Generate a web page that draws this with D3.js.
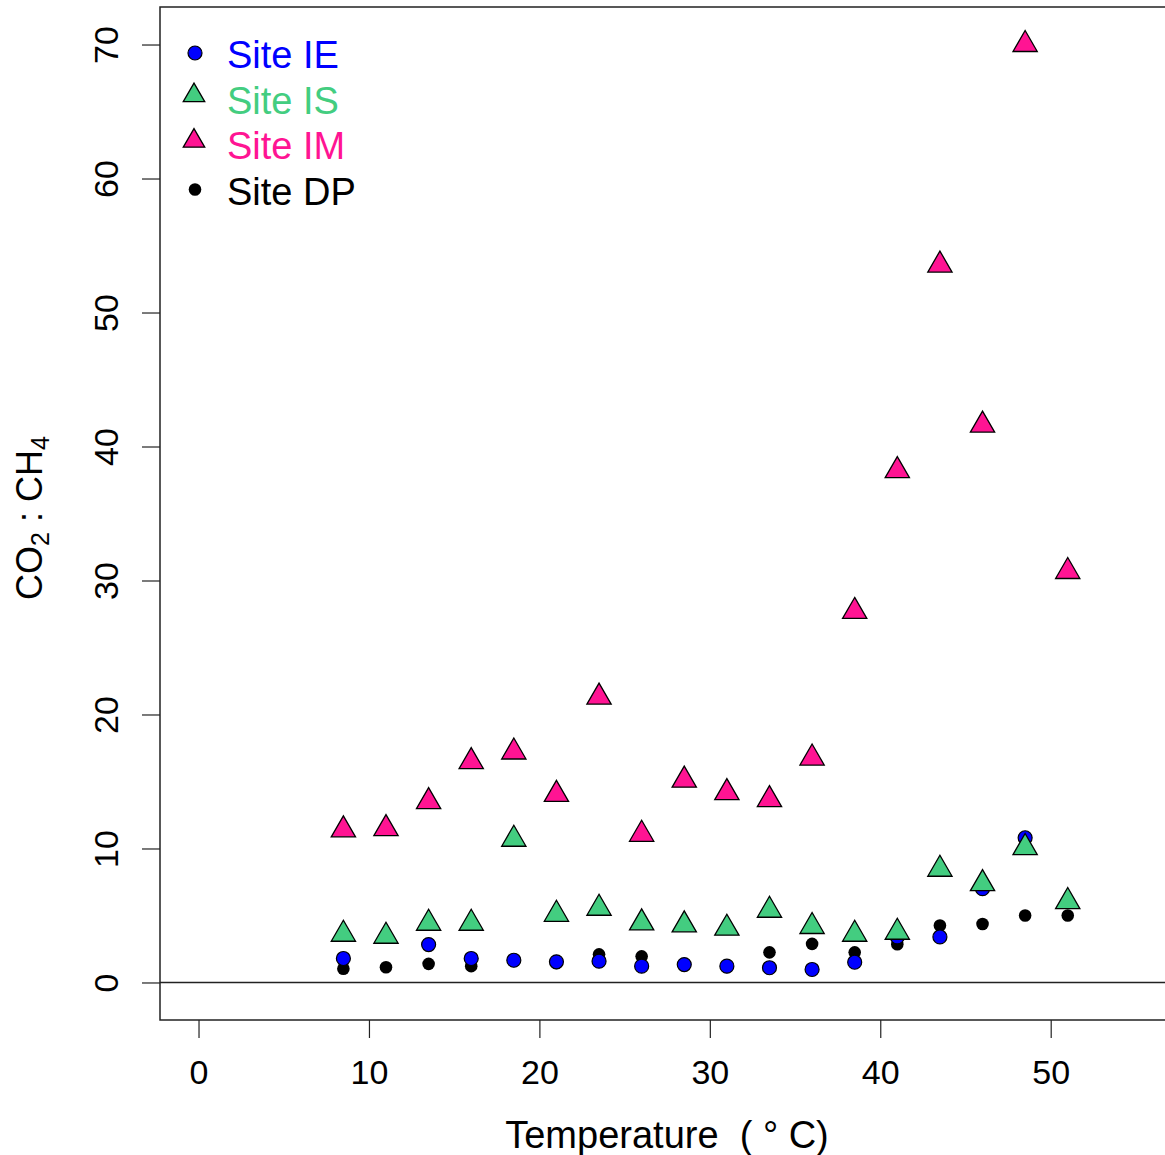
<!DOCTYPE html>
<html>
<head>
<meta charset="utf-8">
<script src="https://cdn.jsdelivr.net/npm/d3@7"></script>
<style>
  body { margin: 0; background: #fff; }
  text { font-family: "Liberation Sans", Arial, sans-serif; }
</style>
</head>
<body>
<div id="chart"></div>
<script>
// Données
const temperature = [8.5, 11, 13.5, 16, 18.5, 21, 23.5, 26, 28.5, 31, 33.5, 36, 38.5, 41, 43.5, 46, 48.5, 51];
const siteIE = [1.79, null, 2.83, 1.79, 1.66, 1.54, 1.59, 1.22, 1.34, 1.22, 1.1, 0.97, 1.51, 3.4, 3.4, 7.0, 10.8, null];
const siteIS = [3.6, 3.45, 4.42, 4.42, 10.69, 5.09, 5.54, 4.45, 4.3, 4.05, 5.39, 4.18, 3.6, 3.75, 8.45, 7.38, 10.07, 6.04];
const siteIM = [11.39, 11.48, 13.5, 16.48, 17.2, 14.04, 21.3, 11.06, 15.1, 14.17, 13.65, 16.75, 27.69, 38.2, 53.54, 41.6, 70.0, 30.67];
const siteDP = [1.02, 1.14, 1.39, 1.22, 1.6, 1.45, 2.1, 1.95, 1.3, 1.15, 2.25, 2.88, 2.25, 2.85, 4.25, 4.37, 5.0, 5.0];
const xTicks = [0, 10, 20, 30, 40, 50];
const yTicks = [0, 10, 20, 30, 40, 50, 60, 70];
const legendLabels = ["Site IE", "Site IS", "Site IM", "Site DP"];

const width = 1165;
const height = 1155;

const svg = d3.select("#chart").append("svg")
  .attr("width", width)
  .attr("height", height);

// Échelles (zone de tracé coupée à droite comme dans l'original)
const x = d3.scaleLinear().domain([-2.26, 58.76]).range([160, 1200]);
const y = d3.scaleLinear().domain([-2.8, 72.8]).range([1020, 7]);

// Cadre
svg.append("rect")
  .attr("x", x(-2.26)).attr("y", y(72.8))
  .attr("width", x(58.76) - x(-2.26)).attr("height", y(-2.8) - y(72.8))
  .attr("fill", "none").attr("stroke", "#222").attr("stroke-width", 1.5);

// Ligne horizontale à zéro
svg.append("line")
  .attr("x1", x(-2.26)).attr("x2", x(58.76))
  .attr("y1", y(0)).attr("y2", y(0))
  .attr("stroke", "#222").attr("stroke-width", 1.3);

// Axe X
const xAxis = svg.append("g")
  .attr("transform", `translate(0,${y(-2.8)})`)
  .call(d3.axisBottom(x).tickValues(xTicks).tickSize(18).tickPadding(22).tickFormat(d3.format("d")));
xAxis.select(".domain").remove();
xAxis.selectAll("line").attr("stroke", "#222").attr("stroke-width", 1.2);
xAxis.selectAll("text").attr("font-size", 34).attr("fill", "#000")
  .style("font-family", "'Liberation Sans', Arial, sans-serif");

// Axe Y (étiquettes verticales comme dans R)
const yAxis = svg.append("g")
  .attr("transform", `translate(${x(-2.26)},0)`)
  .call(d3.axisLeft(y).tickValues(yTicks).tickSize(18).tickFormat(d3.format("d")));
yAxis.select(".domain").remove();
yAxis.selectAll("line").attr("stroke", "#222").attr("stroke-width", 1.2);
yAxis.selectAll("text")
  .attr("x", null).attr("dy", null)
  .attr("text-anchor", "middle")
  .attr("font-size", 34).attr("fill", "#000")
  .style("font-family", "'Liberation Sans', Arial, sans-serif")
  .attr("transform", "translate(-51,0) rotate(-90)")
  .attr("dominant-baseline", "middle");

// Titres des axes
svg.append("text")
  .attr("x", 667).attr("y", 1148)
  .attr("text-anchor", "middle")
  .attr("font-size", 38)
  .style("white-space", "pre")
  .text("Temperature  ( ° C)");

const yTitle = svg.append("text")
  .attr("transform", "translate(42,518) rotate(-90)")
  .attr("text-anchor", "middle")
  .attr("font-size", 36);
yTitle.append("tspan").text("CO");
yTitle.append("tspan").attr("font-size", 25).attr("dy", 7).text("2");
yTitle.append("tspan").attr("dy", -7).style("white-space", "pre").text(" : CH");
yTitle.append("tspan").attr("font-size", 25).attr("dy", 7).text("4");

// Séries
const colIE = "#0000FF";
const colIS = "#43CD80";
const colIM = "#FF1493";
const tri = d3.symbol().type(d3.symbolTriangle).size(255);

const toPoints = (vals) => temperature
  .map((t, i) => ({ t: t, v: vals[i] }))
  .filter((d) => d.v !== null);

// Site DP (points noirs)
svg.append("g").selectAll("circle")
  .data(toPoints(siteDP)).enter().append("circle")
  .attr("cx", (d) => x(d.t)).attr("cy", (d) => y(d.v))
  .attr("r", 6.3).attr("fill", "#000");

// Site IE (cercles bleus)
svg.append("g").selectAll("circle")
  .data(toPoints(siteIE)).enter().append("circle")
  .attr("cx", (d) => x(d.t)).attr("cy", (d) => y(d.v))
  .attr("r", 7).attr("fill", colIE)
  .attr("stroke", "#000").attr("stroke-width", 1.2);

// Site IS (triangles verts)
svg.append("g").selectAll("path")
  .data(toPoints(siteIS)).enter().append("path")
  .attr("d", tri)
  .attr("transform", (d) => `translate(${x(d.t)},${y(d.v)})`)
  .attr("fill", colIS).attr("stroke", "#000").attr("stroke-width", 1.3);

// Site IM (triangles roses)
svg.append("g").selectAll("path")
  .data(toPoints(siteIM)).enter().append("path")
  .attr("d", tri)
  .attr("transform", (d) => `translate(${x(d.t)},${y(d.v)})`)
  .attr("fill", colIM).attr("stroke", "#000").attr("stroke-width", 1.3);

// Légende
const legendColors = [colIE, colIS, colIM, "#000"];
const legend = svg.append("g");
legendLabels.forEach((lab, i) => {
  const ly = 55 + i * 45.5;
  if (i === 0) {
    legend.append("circle").attr("cx", 195).attr("cy", ly - 2).attr("r", 7)
      .attr("fill", colIE).attr("stroke", "#000").attr("stroke-width", 1.2);
  } else if (i === 3) {
    legend.append("circle").attr("cx", 195).attr("cy", ly - 2).attr("r", 6.3).attr("fill", "#000");
  } else {
    legend.append("path").attr("d", d3.symbol().type(d3.symbolTriangle).size(200))
      .attr("transform", `translate(194,${ly - 5})`)
      .attr("fill", legendColors[i]).attr("stroke", "#000").attr("stroke-width", 1.3);
  }
  legend.append("text")
    .attr("x", 227).attr("y", ly + 13)
    .attr("font-size", 38)
    .attr("fill", legendColors[i])
    .text(lab);
});
</script>
</body>
</html>
